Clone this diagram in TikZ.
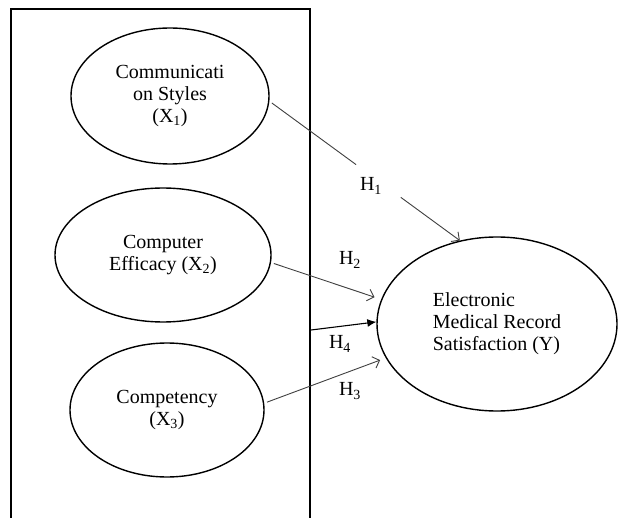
\documentclass[tikz,border=0pt]{standalone}
\usepackage{fontspec}
\setmainfont{Liberation Serif}
\usetikzlibrary{shapes.geometric,arrows.meta,calc}
\begin{document}
\begin{tikzpicture}[x=1pt,y=-1pt,
  font=\fontsize{20}{22}\selectfont,
  ell/.style={draw,ellipse,line width=1.4pt,inner sep=0pt,align=center},
  conn/.style={draw=black!75,line width=0.9pt},
  openarr/.style={-{Straight Barb[length=6pt,width=12pt,line width=0.9pt]}},
  fillarr/.style={-{Latex[length=9pt,width=8pt]}},
  lbl/.style={inner sep=0pt}]
\useasboundingbox (0,0) rectangle (620,518);
\fill[white] (0,0) rectangle (620,518);
\draw[line width=2pt] (11,518) -- (11,9) -- (310,9) -- (310,518);
\node[ell,minimum width=198pt,minimum height=136pt] (e1) at (170,96) {Communicati\\on Styles\\(X\textsubscript{1})};
\node[ell,minimum width=216pt,minimum height=134pt] (e2) at (163,255) {Computer\\Efficacy (X\textsubscript{2})};
\node[ell,minimum width=194pt,minimum height=134pt] (e3) at (167,410) {Competency\\(X\textsubscript{3})};
\node[ell,align=left,minimum width=240pt,minimum height=174pt] (y) at (497,324) {Electronic\\Medical Record\\Satisfaction (Y)};
\coordinate (h4s) at (311,330);
\node[lbl] (h1) at (371,186) {H\textsubscript{1}};
\node[lbl] (h2) at (350,260) {H\textsubscript{2}};
\node[lbl] (h4) at (340,344) {H\textsubscript{4}};
\node[lbl] (h3) at (350,391) {H\textsubscript{3}};
\draw[conn,shorten <=3pt] (e1.-3) -- ($(e1.-3)!0.455!(y.114)$);
\draw[conn,openarr] ($(e1.-3)!0.69!(y.114)$) -- (y.114);
\draw[conn,openarr,shorten <=3pt,shorten >=7pt] (e2.-4) -- (y.168);
\draw[conn,openarr,shorten <=3pt,shorten >=6pt] (e3.4.6) -- (y.197);
\draw[conn,fillarr,line width=1.1pt,draw=black] (h4s) -- (y.179);
\end{tikzpicture}
\end{document}
